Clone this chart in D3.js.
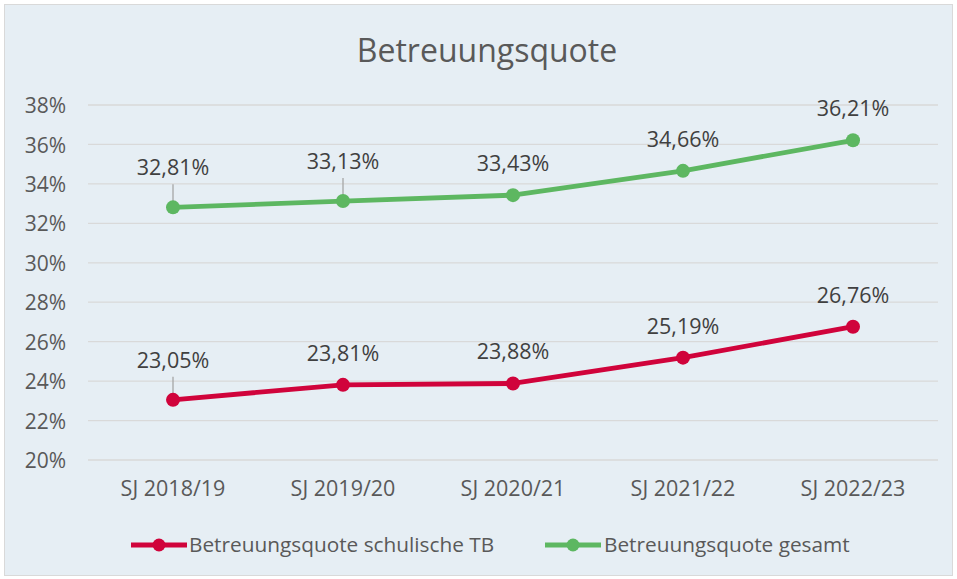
<!DOCTYPE html>
<html>
<head>
<meta charset="utf-8">
<script src="https://cdn.jsdelivr.net/npm/d3@7"></script>
<style>
  body { margin: 0; background: #fff; }
  #chart { width: 957px; height: 579px; }
  text { font-family: "Open Sans", Lato, sans-serif; }
</style>
</head>
<body>
<div id="chart"></div>
<script>
const categories = ["SJ 2018/19", "SJ 2019/20", "SJ 2020/21", "SJ 2021/22", "SJ 2022/23"];
const schulischeTB = [23.05, 23.81, 23.88, 25.19, 26.76];
const gesamt = [32.81, 33.13, 33.43, 34.66, 36.21];
const yTicks = [20, 22, 24, 26, 28, 30, 32, 34, 36, 38];
const seriesNames = ["Betreuungsquote schulische TB", "Betreuungsquote gesamt"];
const seriesColors = ["#D0033B", "#5DB761"];
// which labels get a leader line (series index, point index)
const leaders = [[0, 0], [1, 0], [1, 1]];

const W = 957, H = 579;
const margin = { top: 105, right: 19, bottom: 119, left: 88 };
const width = W - margin.left - margin.right;
const height = H - margin.top - margin.bottom;
const FONT = "'Open Sans', Lato, sans-serif";

const svg = d3.select("#chart").append("svg")
  .attr("width", W)
  .attr("height", H);

svg.append("rect")
  .attr("x", 4.5).attr("y", 4.5)
  .attr("width", W - 9).attr("height", H - 8)
  .attr("fill", "#E6EEF4")
  .attr("stroke", "#D9D9D9");

svg.append("text")
  .attr("x", 487)
  .attr("y", 62)
  .attr("text-anchor", "middle")
  .style("font-size", "32px")
  .style("fill", "#595959")
  .text("Betreuungsquote");

const g = svg.append("g")
  .attr("transform", `translate(${margin.left},${margin.top})`);

const x = d3.scaleBand()
  .domain(categories)
  .range([0, width]);

const y = d3.scaleLinear()
  .domain([20, 38])
  .range([height, 0]);

// grid
g.append("g")
  .selectAll("line")
  .data(yTicks)
  .enter()
  .append("line")
  .attr("x1", 0)
  .attr("x2", width)
  .attr("y1", (d) => y(d))
  .attr("y2", (d) => y(d))
  .attr("stroke", "#D9D9D9")
  .attr("stroke-width", 1.3);

// y axis labels
g.append("g")
  .call(d3.axisLeft(y).tickValues(yTicks).tickSize(0).tickPadding(22).tickFormat((d) => d + "%"))
  .call((a) => a.select(".domain").remove())
  .selectAll("text")
  .attr("dy", "0.36em")
  .style("font-size", "21px")
  .style("fill", "#595959")
  .style("font-family", FONT);

// x axis labels
g.append("g")
  .attr("transform", `translate(0,${height})`)
  .call(d3.axisBottom(x).tickSize(0).tickPadding(21))
  .call((a) => a.select(".domain").remove())
  .selectAll("text")
  .style("font-size", "21.5px")
  .style("fill", "#595959")
  .style("font-family", FONT);

const cx = (i) => x(categories[i]) + x.bandwidth() / 2;
const fmt = (v) => v.toFixed(2).replace(".", ",") + "%";
const hasLeader = (s, i) => leaders.some((l) => l[0] === s && l[1] === i);

[schulischeTB, gesamt].forEach((vals, s) => {
  const line = d3.line()
    .x((d, i) => cx(i))
    .y((d) => y(d));

  // leader lines
  leaders.filter((l) => l[0] === s).forEach(([, i]) => {
    g.append("line")
      .attr("x1", cx(i)).attr("x2", cx(i))
      .attr("y1", y(vals[i]) - 23)
      .attr("y2", y(vals[i]))
      .attr("stroke", "#A6A6A6")
      .attr("stroke-width", 1.3);
  });

  g.append("path")
    .datum(vals)
    .attr("fill", "none")
    .attr("stroke", seriesColors[s])
    .attr("stroke-width", 4.8)
    .attr("stroke-linejoin", "round")
    .attr("d", line);

  g.selectAll(".pt" + s)
    .data(vals)
    .enter()
    .append("circle")
    .attr("cx", (d, i) => cx(i))
    .attr("cy", (d) => y(d))
    .attr("r", 7)
    .attr("fill", seriesColors[s]);

  g.selectAll(".lbl" + s)
    .data(vals)
    .enter()
    .append("text")
    .attr("x", (d, i) => cx(i))
    .attr("y", (d, i) => y(d) - (hasLeader(s, i) ? 32 : 24))
    .attr("text-anchor", "middle")
    .style("font-size", "21.5px")
    .style("fill", "#404040")
    .text((d) => fmt(d));
});

// legend
const legendItems = [{ x: 131, tx: 189 }, { x: 545, tx: 604 }];
legendItems.forEach((it, s) => {
  const lg = svg.append("g").attr("transform", `translate(${it.x},545)`);
  lg.append("line")
    .attr("x1", 0).attr("x2", 56)
    .attr("stroke", seriesColors[s])
    .attr("stroke-width", 4.8);
  lg.append("circle")
    .attr("cx", 28).attr("r", 6.5)
    .attr("fill", seriesColors[s]);
  svg.append("text")
    .attr("x", it.tx)
    .attr("y", 552)
    .style("font-size", "20.8px")
    .style("fill", "#595959")
    .text(seriesNames[s]);
});
</script>
</body>
</html>
